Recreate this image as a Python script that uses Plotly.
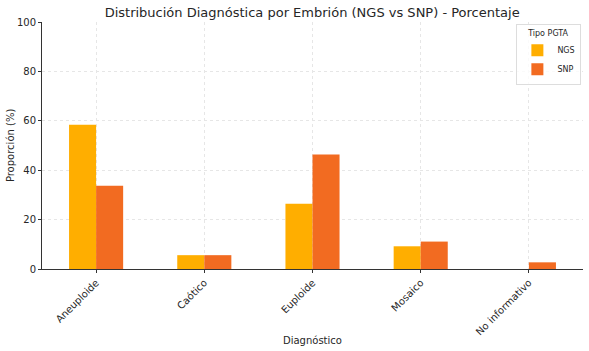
import plotly.graph_objects as go

categories = ["Aneuploide", "Caótico", "Euploide", "Mosaico", "No informativo"]
ngs = [58.4, 5.6, 26.4, 9.2, 0.0]
snp = [33.7, 5.6, 46.4, 11.1, 2.7]
yticks = [0, 20, 40, 60, 80, 100]

FONT = "DejaVu Sans"
fig = go.Figure()
fig.add_trace(go.Bar(x=categories, y=ngs, name="NGS", marker=dict(color="#FFAE00", line=dict(width=0))))
fig.add_trace(go.Bar(x=categories, y=snp, name="SNP", marker=dict(color="#F26B21", line=dict(width=0))))

fig.update_layout(
    width=589, height=351,
    margin=dict(l=42, r=6, t=22, b=82, autoexpand=False),
    paper_bgcolor="white", plot_bgcolor="white",
    barmode="group", bargap=0.5, bargroupgap=0,
    font=dict(family=FONT, size=10, color="#262626"),
    title=dict(text="Distribución Diagnóstica por Embrión (NGS vs SNP) - Porcentaje",
               x=0.53, xanchor="center", y=0.964, yanchor="middle",
               font=dict(size=13, color="#262626")),
    legend=dict(title=dict(text="Tipo PGTA", font=dict(size=8), side="top center"), font=dict(size=8),
                x=0.997, xanchor="right", y=0.99, yanchor="top",
                bordercolor="#dddddd", borderwidth=1, bgcolor="rgba(255,255,255,0.8)",
                itemwidth=30, tracegroupgap=0),
    xaxis=dict(automargin=False,
               tickangle=-45, showline=True, linecolor="#333333", linewidth=1,
               ticks="outside", ticklen=3, tickcolor="#333333",
               showgrid=True, gridcolor="#e6e6e6", griddash="dot", gridwidth=1,
               tickfont=dict(size=10)),
    yaxis=dict(automargin=False,
               range=[0, 100], tickvals=yticks, showline=True, linecolor="#333333", linewidth=1,
               ticks="outside", ticklen=3, tickcolor="#333333",
               showgrid=True, gridcolor="#e6e6e6", griddash="dot", gridwidth=1,
               zeroline=False, tickfont=dict(size=10)),
    annotations=[
        dict(text="Diagnóstico", xref="paper", yref="paper", x=0.5, y=-0.29,
             xanchor="center", yanchor="middle", showarrow=False, font=dict(size=10)),
        dict(text="Proporción (%)", xref="paper", yref="paper", x=-0.058, y=0.5,
             xanchor="center", yanchor="middle", textangle=-90, showarrow=False, font=dict(size=10)),
    ],
)
fig.write_html("out.html")
